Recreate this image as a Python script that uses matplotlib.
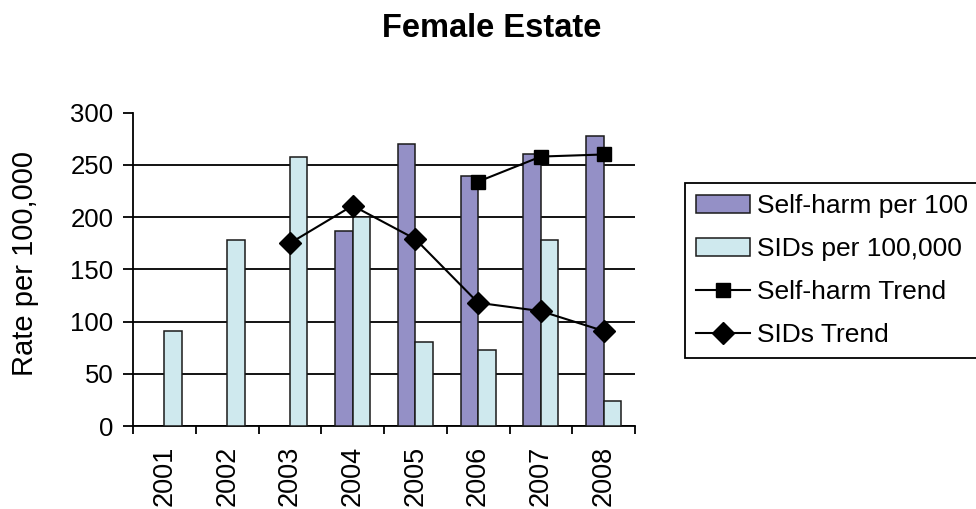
import numpy as np
import matplotlib
matplotlib.use("Agg")
import matplotlib.pyplot as plt

plt.rcParams["font.family"] = ["Liberation Sans", "DejaVu Sans"]

# Data
years = ["2001", "2002", "2003", "2004", "2005", "2006", "2007", "2008"]
self_harm = [np.nan, np.nan, np.nan, 187, 270, 239, 260, 278]
sids = [91, 178, 258, 200, 80, 73, 178, 24]
self_harm_trend = [np.nan, np.nan, np.nan, np.nan, np.nan, 234, 258, 260]
sids_trend = [np.nan, np.nan, 175, 211, 179, 118, 110, 91]

W, H = 976, 509
fig = plt.figure(figsize=(W / 100, H / 100), dpi=100)
ax = fig.add_axes([133 / W, 1 - 426 / H, (635 - 133) / W, (426 - 112.7) / H])

x = np.arange(len(years))
bw = 0.28

b1 = ax.bar(x - bw / 2, self_harm, bw, color="#9490C6", edgecolor="#1a1a1a",
            linewidth=1.1, zorder=3, label="Self-harm per 100")
b2 = ax.bar(x + bw / 2, sids, bw, color="#CFE9EE", edgecolor="#1a1a1a",
            linewidth=1.1, zorder=3, label="SIDs per 100,000")
l1, = ax.plot(x, self_harm_trend, "k-", marker="s", markersize=10, lw=1.5,
              zorder=4, label="Self-harm Trend")
l2, = ax.plot(x, sids_trend, "k-", marker="D", markersize=11, lw=1.5,
              zorder=4, label="SIDs Trend")

# Axes styling
ax.set_xlim(-0.5, len(years) - 0.5)
ax.set_ylim(0, 300)
ax.set_yticks(np.arange(0, 301, 50))
ax.yaxis.grid(True, color="black", linewidth=1.3, zorder=1)
ax.get_ygridlines()[-1].set_visible(False)  # no line at the top
ax.set_axisbelow(True)
for side in ["top", "right"]:
    ax.spines[side].set_visible(False)
for side in ["left", "bottom"]:
    ax.spines[side].set_linewidth(1.3)
    ax.spines[side].set_color("black")

ax.set_xticks(x)
ax.set_xticklabels(years, rotation=90, fontsize=19.5)
ax.set_xticks(np.arange(-0.5, len(years), 1.0), minor=True)
ax.tick_params(axis="x", which="major", length=0, pad=14)
ax.tick_params(axis="x", which="minor", length=6, width=1.3, direction="out")
ax.tick_params(axis="y", length=7, width=1.3, labelsize=18.5, pad=7)

fig.text(25 / W, 1 - 263.5 / H, "Rate per 100,000", rotation=90,
         ha="center", va="center", fontsize=21)
fig.text(491.5 / W, 1 - 37 / H, "Female Estate", ha="center",
         va="baseline", fontsize=23.5, fontweight="bold")

fig.legend(handles=[b1, b2, l1, l2], loc="upper left",
           bbox_to_anchor=(685 / W, 1 - 183 / H), borderaxespad=0,
           fontsize=19, handlelength=2.05, handletextpad=0.27,
           borderpad=0.42, labelspacing=0.72, fancybox=False,
           framealpha=1, edgecolor="black")
fig.legends[0].get_frame().set_linewidth(1.3)

fig.savefig("out.png", dpi=100)
